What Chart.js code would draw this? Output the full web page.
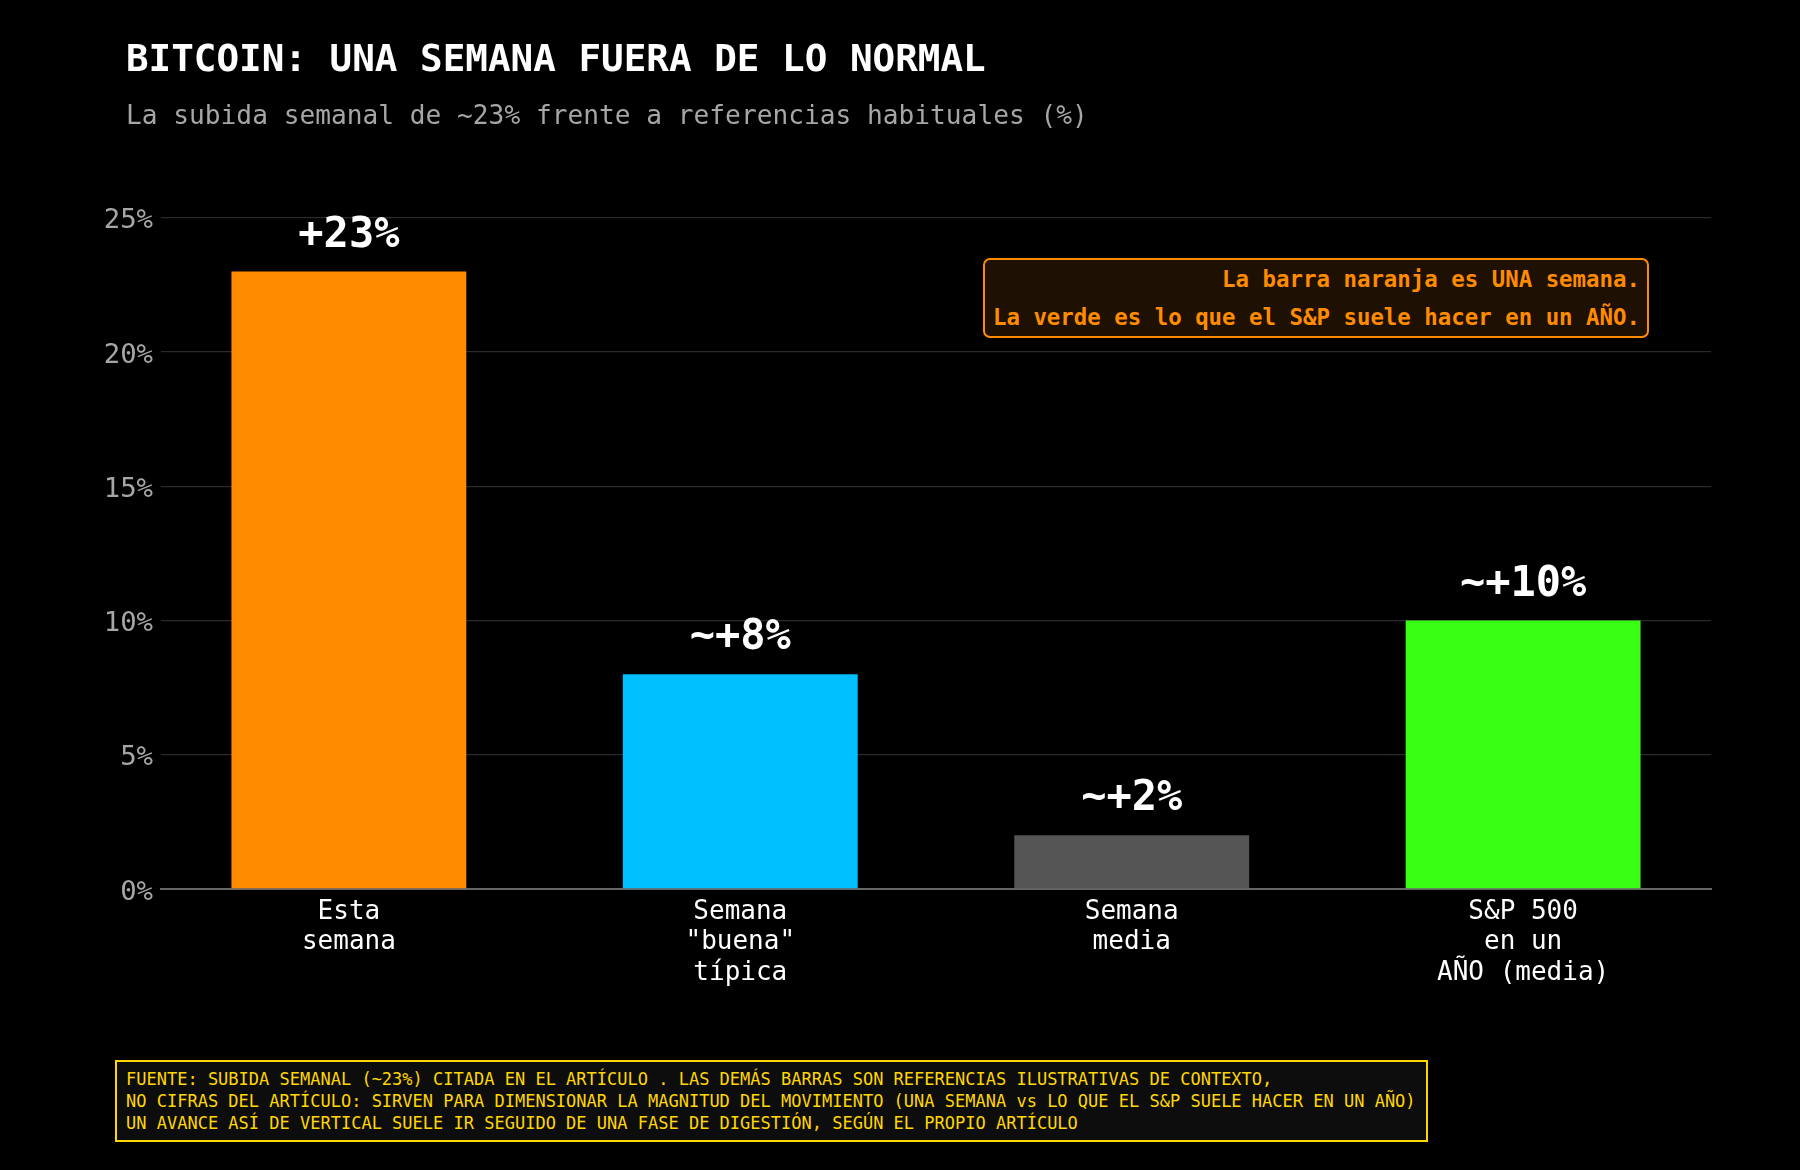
<!DOCTYPE html>
<html>
<head>
<meta charset="utf-8">
<script src="https://cdn.jsdelivr.net/npm/chart.js@4.4.0/dist/chart.umd.min.js"></script>
<style>
  html, body { margin: 0; padding: 0; background: #000; }
  #wrap { position: relative; width: 1800px; height: 1170px; overflow: hidden; background: #000; }
  canvas { position: absolute; left: 0; top: 0; }
  .txt { position: absolute; font-family: "DejaVu Sans Mono", monospace; white-space: pre; }
  #title { left: 126px; top: 40px; font-size: 37.6px; line-height: 37px; font-weight: bold; color: #ffffff; }
  #subtitle { left: 126px; top: 102px; font-size: 26.2px; line-height: 26px; color: #a6a6a6; }
  #note { left: 983px; top: 258px; width: 666px; height: 80px; box-sizing: border-box;
          border: 2px solid #ff8c00; border-radius: 7px; background: #1e1104;
          color: #ff8c00; font-size: 22.4px; font-weight: bold; line-height: 38px;
          text-align: right; padding: 0 7px 0 0; }
  #footer { left: 115px; top: 1060px; width: 1313px; height: 82px; box-sizing: border-box;
            border: 2px solid #ffd700; background: #0d0d0d; color: #ffd700;
            font-size: 17px; line-height: 22px; padding: 6px 0 0 9px; }
</style>
</head>
<body>
<div id="wrap">
  <canvas id="c" width="1800" height="1170"></canvas>
  <div class="txt" id="title">BITCOIN: UNA SEMANA FUERA DE LO NORMAL</div>
  <div class="txt" id="subtitle">La subida semanal de ~23% frente a referencias habituales (%)</div>
  <div class="txt" id="note">La barra naranja es UNA semana.
La verde es lo que el S&amp;P suele hacer en un AÑO.</div>
  <div class="txt" id="footer">FUENTE: SUBIDA SEMANAL (~23%) CITADA EN EL ARTÍCULO . LAS DEMÁS BARRAS SON REFERENCIAS ILUSTRATIVAS DE CONTEXTO,
NO CIFRAS DEL ARTÍCULO: SIRVEN PARA DIMENSIONAR LA MAGNITUD DEL MOVIMIENTO (UNA SEMANA vs LO QUE EL S&amp;P SUELE HACER EN UN AÑO)
UN AVANCE ASÍ DE VERTICAL SUELE IR SEGUIDO DE UNA FASE DE DIGESTIÓN, SEGÚN EL PROPIO ARTÍCULO</div>
</div>
<script>
// ---- data ----
const categories = [
  ["Esta", "semana"],
  ["Semana", "\"buena\"", "típica"],
  ["Semana", "media"],
  ["S&P 500", "en un", "AÑO (media)"]
];
const values = [23, 8, 2, 10];
const valueLabels = ["+23%", "~+8%", "~+2%", "~+10%"];
const yTicks = [0, 5, 10, 15, 20, 25];
const barColors = ["#ff8c00", "#00bfff", "#555555", "#39ff14"];

const FONT = "'DejaVu Sans Mono', monospace";

const valueLabelPlugin = {
  id: "valueLabels",
  afterDatasetsDraw(chart) {
    const ctx = chart.ctx;
    const meta = chart.getDatasetMeta(0);
    ctx.save();
    ctx.font = "bold 42px " + FONT;
    ctx.fillStyle = "#ffffff";
    ctx.textAlign = "center";
    ctx.textBaseline = "alphabetic";
    meta.data.forEach((bar, i) => {
      ctx.fillText(valueLabels[i], bar.x, bar.y - 25);
    });
    ctx.restore();
  }
};

new Chart(document.getElementById("c"), {
  type: "bar",
  data: {
    datasets: [{
      data: values.map((v, i) => ({ x: i, y: v })),
      backgroundColor: barColors,
      borderWidth: 0,
      categoryPercentage: 1.0,
      barPercentage: 0.6
    }]
  },
  options: {
    responsive: false,
    animation: false,
    devicePixelRatio: 1,
    layout: { padding: { left: 0, right: 89, top: 191, bottom: 0 } },
    plugins: { legend: { display: false }, tooltip: { enabled: false }, title: { display: false } },
    scales: {
      x: {
        type: "linear",
        min: -0.48,
        max: 3.48,
        offset: false,
        grid: { display: false, drawTicks: false },
        border: { display: true, color: "#666666", width: 2 },
        afterBuildTicks(axis) { axis.ticks = categories.map((c, i) => ({ value: i })); },
        afterFit(axis) { axis.height = 281; },
        ticks: {
          autoSkip: false,
          maxRotation: 0,
          padding: 8,
          color: "#ffffff",
          font: { family: FONT, size: 26, lineHeight: 1.17 },
          callback: (v) => categories[v] || ""
        }
      },
      y: {
        min: 0,
        max: 26,
        afterBuildTicks(axis) { axis.ticks = yTicks.map(v => ({ value: v })); },
        afterFit(axis) { axis.width = 161; },
        grid: { color: "#2b2b2b", lineWidth: 1.3, drawTicks: false },
        border: { display: false },
        ticks: {
          padding: 8,
          labelOffset: 3.5,
          color: "#a6a6a6",
          font: { family: FONT, size: 27.3 },
          callback: (v) => v + "%"
        }
      }
    }
  },
  plugins: [valueLabelPlugin]
});
</script>
</body>
</html>
